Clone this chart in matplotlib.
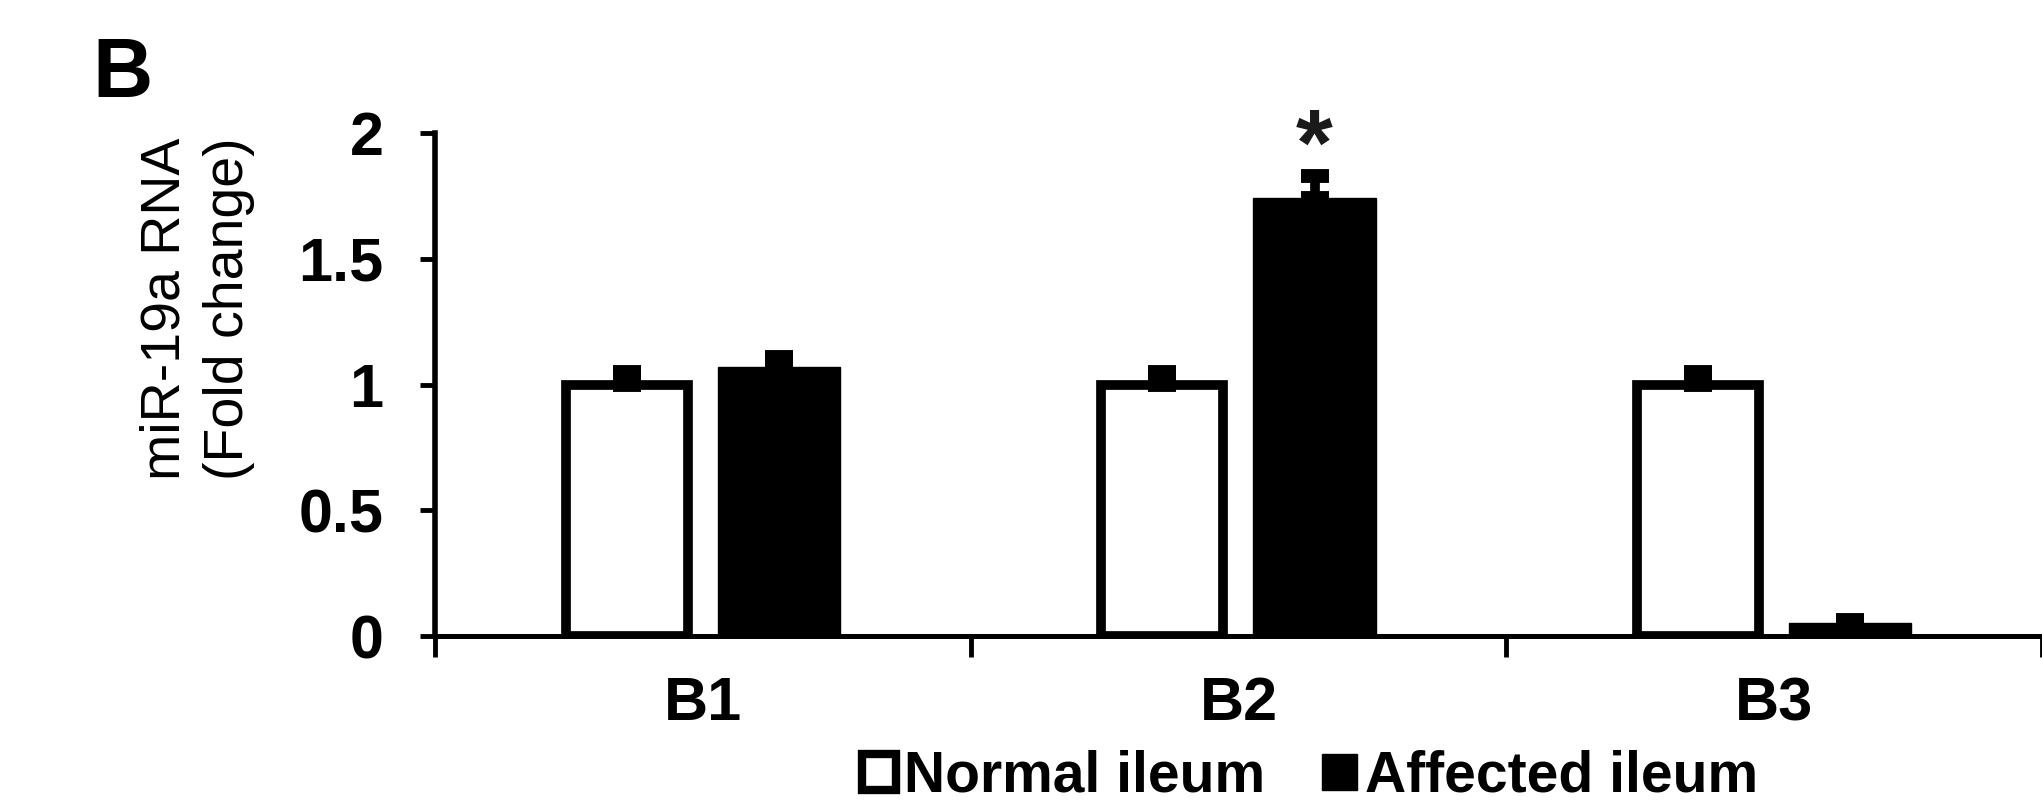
import matplotlib
matplotlib.use('Agg')
import matplotlib.pyplot as plt
from matplotlib.patches import Patch
import numpy as np

plt.rcParams['font.family'] = ['Liberation Sans', 'DejaVu Sans']

groups = ['B1', 'B2', 'B3']
normal = [1.0, 1.0, 1.0]
normal_err = [0.05, 0.05, 0.05]
affected = [1.07, 1.74, 0.05]
affected_err = [0.04, 0.09, 0.012]
signif = ['', '*', '']
y_ticks = [0, 0.5, 1, 1.5, 2]
y_ticklabels = ['0', '0.5', '1', '1.5', '2']

fig = plt.figure(figsize=(20.42, 8.09), dpi=100)
ax = fig.add_axes([0.213, 0.2138, 0.787, 0.6218])

x = np.arange(1, len(groups) + 1)
w = 0.228
off = 0.142

ax.bar(x - off, normal, w, color='white', edgecolor='black', linewidth=7, zorder=2)
ax.bar(x + off, affected, w, color='black', edgecolor='black', linewidth=1, zorder=2)

# upper error bars only
ax.errorbar(x - off, normal, yerr=[np.zeros(3), normal_err], fmt='none',
            ecolor='black', elinewidth=7, capsize=10, capthick=10, zorder=3)
ax.errorbar(x + off, affected, yerr=[np.zeros(3), affected_err], fmt='none',
            ecolor='black', elinewidth=7, capsize=10, capthick=10, zorder=3)

for i, s in enumerate(signif):
    if s:
        ax.text(x[i] + off, affected[i] + affected_err[i] + 0.10, s,
                ha='center', va='center', fontsize=68, fontweight='bold',
                color='#1a1a1a')

ax.set_xlim(0.5, 0.5 + (2042 - 435) / 553)
ax.set_ylim(0, 2)

ax.set_xticks([0.5, 1.5, 2.5, 3.5])
ax.set_xticklabels([])
ax.set_xticks(x, minor=True)
ax.set_xticklabels(groups, minor=True, fontsize=44, fontweight='bold')
ax.tick_params(axis='x', which='minor', length=0, pad=29)
ax.tick_params(axis='x', which='major', direction='out', length=15, width=3.5)

ax.set_yticks(y_ticks)
ax.set_yticklabels(y_ticklabels, fontsize=44, fontweight='bold')
ax.tick_params(axis='y', direction='out', length=11, width=3.5, pad=26)

for side in ['top', 'right']:
    ax.spines[side].set_visible(False)
ax.spines['left'].set_linewidth(4)
ax.spines['bottom'].set_linewidth(3.6)

fig.text(0.0967, 0.618, 'miR-19a RNA\n(Fold change)', rotation=90,
         ha='center', va='center', multialignment='center', fontsize=40,
         linespacing=1.28)
fig.text(92 / 2042, 1 - 97 / 809, 'B', fontsize=60, fontweight='bold',
         ha='left', va='baseline')

handles = [Patch(facecolor='white', edgecolor='black', linewidth=6, label='Normal ileum'),
           Patch(facecolor='black', edgecolor='black', label='Affected ileum')]
fig.legend(handles=handles, loc='center', bbox_to_anchor=(0.6415, 0.0396), ncol=2,
           frameon=False, prop={'size': 41, 'weight': 'bold'},
           handlelength=0.6, handleheight=0.6,
           handletextpad=0.15, columnspacing=1.0, borderpad=0, borderaxespad=0)

fig.savefig('out.png', dpi=100)
